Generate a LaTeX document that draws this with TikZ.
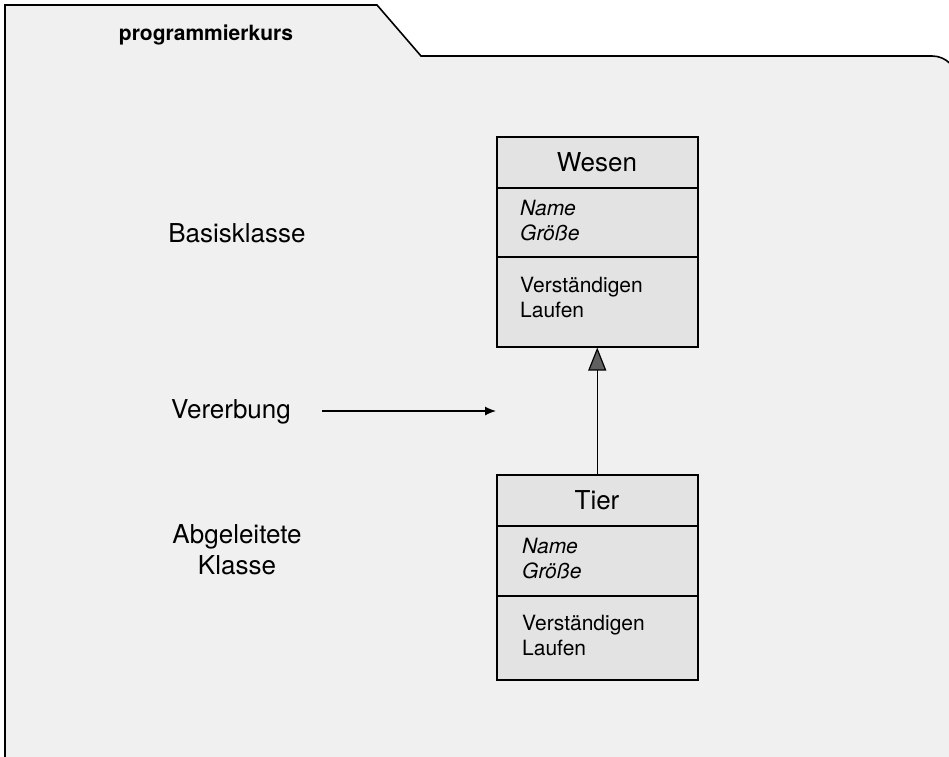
\documentclass[tikz,border=0pt]{standalone}
\usepackage{fontspec}
\setmainfont{TeX Gyre Heros}
\usetikzlibrary{arrows.meta}
\definecolor{pkgfill}{HTML}{F0F0F0}
\definecolor{classfill}{HTML}{E3E3E3}
\definecolor{tipgray}{HTML}{606060}
\tikzset{
  label26/.style={inner sep=0pt, font=\fontsize{26}{31}\selectfont},
  member/.style={inner sep=0pt, anchor=base west, align=left,
    font=\fontsize{21}{25}\selectfont},
  classbox/.style={draw, line width=1.5pt, fill=classfill, inner sep=0pt,
    minimum width=201pt, anchor=north west},
  headrule/.style={line width=2pt},
  partrule/.style={line width=1.2pt},
}
\begin{document}
\begin{tikzpicture}[x=1pt, y=-1pt]
\useasboundingbox (0,0) rectangle (949,756);
\clip (0,0) rectangle (949,756);
\fill[white] (0,0) rectangle (949,756);

% package frame with its tab
\draw[line width=1.6pt, fill=pkgfill]
  (5,770) -- (5,5) -- (377,5) -- (421,56) -- (932,56)
  .. controls (946,56) and (957,67) .. (957,81) -- (957,770);
\node[inner sep=0pt, font=\fontsize{21}{25}\selectfont\bfseries] (pkg) at (206,35) {programmierkurs};

% base class (multi-line nodes sit on the baseline of their last line)
\node[classbox, minimum height=210pt] (wesen) at (496,136) {};
\draw[headrule] (496,188) -- (697,188);
\draw[partrule] (496,257) -- (697,257);
\node[label26] (wesenname) at (597,162) {Wesen};
\node[member] (wesenattr) at (520,240) {\itshape Name\\\itshape Größe};
\node[member] (wesenops) at (520,317) {Verständigen\\Laufen};

% derived class
\node[classbox, minimum height=205pt] (tier) at (496,474) {};
\draw[headrule] (496,526) -- (697,526);
\draw[partrule] (496,596) -- (697,596);
\node[label26] (tiername) at (597,500) {Tier};
\node[member] (tierattr) at (522,578) {\itshape Name\\\itshape Größe};
\node[member] (tierops) at (522,655) {Verständigen\\Laufen};

% generalisation
\draw[line width=1.2pt, -{Triangle[length=23pt, width=18pt, fill=tipgray]}]
  (tier.north) -- (wesen.south);

% side labels
\node[label26] (basis) at (237,233) {Basisklasse};
\node[label26, anchor=base] (vererbung) at (231,418) {Vererbung};
\node[label26, align=center, anchor=base] (abgeleitet) at (237,574) {Abgeleitete\\Klasse};

\coordinate (pointerstart) at (322,411);
\coordinate (pointerend) at (496,411);
\draw[line width=1.2pt, -{Latex[length=11pt, width=9pt]}] (pointerstart) -- (pointerend);
\end{tikzpicture}
\end{document}
